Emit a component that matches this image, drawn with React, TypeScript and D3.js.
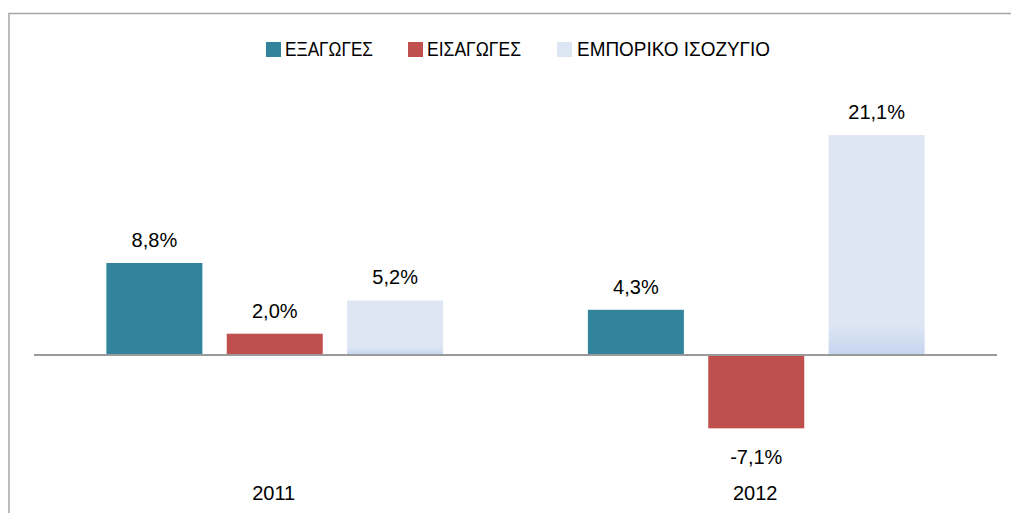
import React from "react";
import * as d3 from "d3";

const years = ["2011", "2012"];
const seriesNames = ["ΕΞΑΓΩΓΕΣ", "ΕΙΣΑΓΩΓΕΣ", "ΕΜΠΟΡΙΚΟ ΙΣΟΖΥΓΙΟ"];
const exportsVals = [8.8, 4.3];
const importsVals = [2.0, -7.1];
const balanceVals = [5.2, 21.1];
const seriesColors = ["#31849b", "#c0504d", "url(#balGrad)"];
const legendColors = ["#31849b", "#c0504d", "#dce6f2"];

const W = 1011;
const H = 513;

function fmt(v: number) {
  return v.toFixed(1).replace(".", ",") + "%";
}

export default function App() {
  const values = [exportsVals, importsVals, balanceVals];
  const x0 = d3.scaleBand<string>().domain(years).range([34, 997]).padding(0);
  const x1 = d3
    .scalePoint<string>()
    .domain(seriesNames)
    .range([0, x0.bandwidth()])
    .padding(1);
  const y = d3.scaleLinear().domain([-10, 25]).range([458.5, 94.5]);
  const barW = 96;
  const font = "'Liberation Sans', Arial, sans-serif";

  const legendX = [266, 408, 557];
  const legendLen = [88, 94, 193];

  return (
    <svg
      width={W}
      height={H}
      style={{ position: "absolute", left: 0, top: 0, background: "#fff" }}
    >
      <defs>
        <linearGradient id="balGrad" x1="0" y1="0" x2="0" y2="1">
          <stop offset="0" stopColor="#dfe6f3" />
          <stop offset="0.86" stopColor="#dfe6f3" />
          <stop offset="1" stopColor="#c5d4ee" />
        </linearGradient>
      </defs>
      <rect x={9} y={13.5} width={1020} height={520} fill="#fff" stroke="#a6a6a6" strokeWidth={1.5} />

      {seriesNames.map((s, i) => (
        <g key={s}>
          <rect x={legendX[i]} y={42} width={15} height={15} fill={legendColors[i]} />
          <text
            x={legendX[i] + (i === 2 ? 20 : 19)}
            y={56}
            fontFamily={font}
            fontSize={19.5}
            fill="#000"
            textLength={legendLen[i]}
            lengthAdjust="spacingAndGlyphs"
          >
            {s}
          </text>
        </g>
      ))}

      {years.map((yr, yi) => (
        <g key={yr}>
          {seriesNames.map((s, si) => {
            const v = values[si][yi];
            const cx = (x0(yr) as number) + (x1(s) as number);
            const top = Math.min(y(v), y(0));
            const h = Math.abs(y(v) - y(0));
            return (
              <g key={s}>
                <rect x={cx - barW / 2} y={top} width={barW} height={h} fill={seriesColors[si]} />
                <text
                  x={cx}
                  y={v >= 0 ? y(v) - 16 : y(v) + 36}
                  textAnchor="middle"
                  fontFamily={font}
                  fontSize={20}
                  fill="#000"
                >
                  {fmt(v)}
                </text>
              </g>
            );
          })}
          <text
            x={(x0(yr) as number) + x0.bandwidth() / 2 - 1}
            y={500}
            textAnchor="middle"
            fontFamily={font}
            fontSize={20}
            fill="#000"
          >
            {yr}
          </text>
        </g>
      ))}

      <line x1={34} x2={997} y1={y(0) + 0.5} y2={y(0) + 0.5} stroke="#9a9a9a" strokeWidth={2} />
    </svg>
  );
}
